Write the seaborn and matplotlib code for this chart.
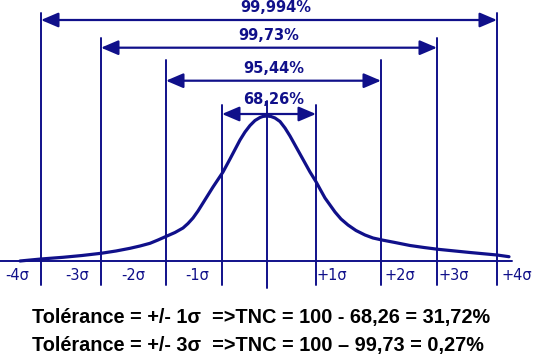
import numpy as np
import pandas as pd
import seaborn as sns
import matplotlib.pyplot as plt

# courbe en cloche (x le long de l'axe, hauteur au-dessus de la base)
curve_x = [20, 41, 63, 82, 101, 116, 130, 140, 150, 158, 167, 175, 183, 188, 193, 198,
           203, 208, 213, 218, 223, 230, 235, 240, 245, 250, 255, 260, 263, 267,
           271, 275, 280, 285, 290, 295, 300, 305, 310, 316, 320, 325, 330, 335, 341,
           348, 356, 365, 373, 382, 395, 410, 424, 438, 455, 470, 484, 497, 509]
curve_h = [0, 2, 3.7, 5.5, 7.7, 10, 12.7, 15, 17.7, 21, 25, 28.5, 33, 37.5, 43, 50,
           58, 66, 74, 81.5, 89, 102, 111.5, 121, 129, 135.5, 140.5, 143.5, 144.6, 145,
           144.5, 143, 139.5, 133, 125, 116, 107, 98, 89, 79.3, 72, 63, 56, 49, 42,
           36, 30.5, 26, 23, 21, 18.5, 15.5, 13.5, 11.7, 10, 8.5, 7.2, 6, 4.3]

# positions des sigmas sur l'axe
sigma_k = [-4, -3, -2, -1, 0, 1, 2, 3, 4]
sigma_x = [41, 101, 166, 222, 267, 316, 381, 437, 497]
sigma_labels = ['-4σ', '-3σ', '-2σ', '-1σ', '', '+1σ', '+2σ', '+3σ', '+4σ']

# intervalles +/- k sigma
interval_k = [1, 2, 3, 4]
interval_pct = ['68,26%', '95,44%', '99,73%', '99,994%']

bottom_lines = ['Tolérance = +/- 1σ  =>TNC = 100 - 68,26 = 31,72%',
                'Tolérance = +/- 3σ  =>TNC = 100 – 99,73 = 0,27%']

navy = '#10108a'

sns.set_style('white')
fig = plt.figure(figsize=(5.37, 3.56), dpi=100)
ax = fig.add_axes([0, 0, 1, 1])
ax.set_xlim(0, 537)
ax.set_ylim(-95, 261)
ax.axis('off')

df = pd.DataFrame({'x': curve_x, 'h': curve_h})
sns.lineplot(data=df, x='x', y='h', ax=ax, color=navy, lw=2.3, sort=False)

# ligne de base
ax.plot([0, 512], [0, 0], color=navy, lw=1.4)

pos = dict(zip(sigma_k, sigma_x))
top_of = {1: 156, 2: 201, 3: 223.5, 4: 248}
arrow_y = {1: 147, 2: 180.3, 3: 213.3, 4: 241}
label_y = {1: 162, 2: 192.5, 3: 226, 4: 253.5}
label_x = {1: 274, 2: 274, 3: 268.5, 4: 276}

for k, x in zip(sigma_k, sigma_x):
    if k == 0:
        ax.plot([x, x], [-27, 160], color=navy, lw=1.4)
    else:
        ax.plot([x, x], [-24, top_of[abs(k)]], color=navy, lw=1.4)

# étiquettes des sigmas
lab_x = {-4: 17, -3: 77, -2: 133, -1: 197, 1: 332, 2: 400, 3: 454, 4: 517}
for k, lab in zip(sigma_k, sigma_labels):
    if lab:
        ax.text(lab_x[k], -14, lab, ha='center', va='center', color=navy,
                fontsize=10.5, family='DejaVu Sans')

for k, pct in zip(interval_k, interval_pct):
    ax.annotate('', xy=(pos[-k], arrow_y[k]), xytext=(pos[k], arrow_y[k]),
                arrowprops=dict(arrowstyle='<|-|>,head_length=0.75,head_width=0.32',
                                color=navy, lw=1.6, shrinkA=0, shrinkB=0,
                                mutation_scale=14))
    ax.text(label_x[k], label_y[k], pct, ha='center', va='center', color=navy,
            fontsize=10.5, fontweight='bold', family='DejaVu Sans')

for i, line in enumerate(bottom_lines):
    ax.text(32, -57 - 27 * i, line, ha='left', va='center', color='black',
            fontsize=14.3, fontweight='bold', family='Liberation Sans')

fig.savefig('out.png', dpi=100)
